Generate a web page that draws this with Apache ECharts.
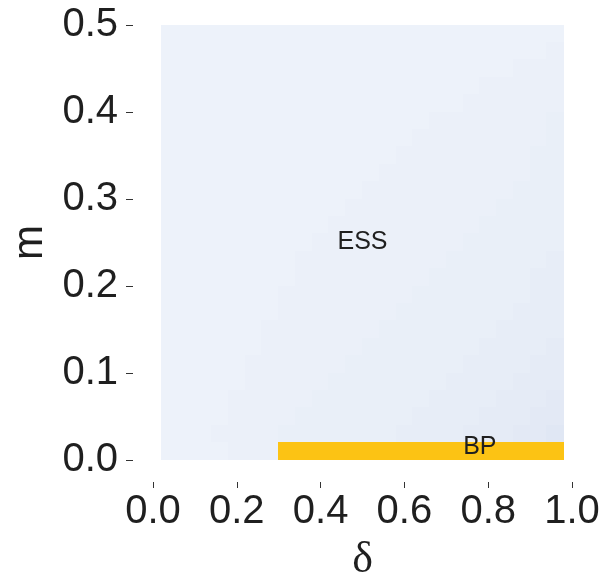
<!DOCTYPE html>
<html>
<head>
<meta charset="utf-8">
<script src="https://cdn.jsdelivr.net/npm/echarts@6/dist/echarts.min.js"></script>
<style>
  html, body { margin: 0; padding: 0; background: #ffffff; }
  #chart { width: 616px; height: 573px; }
</style>
</head>
<body>
<div id="chart"></div>
<script>
// Grid of δ cell centres (columns) and m cell centres (rows, top to bottom)
const deltaCenters = [0.04, 0.08, 0.12, 0.16, 0.20, 0.24, 0.28, 0.32, 0.36, 0.40, 0.44, 0.48,
                      0.52, 0.56, 0.60, 0.64, 0.68, 0.72, 0.76, 0.80, 0.84, 0.88, 0.92, 0.96];
const mCenters = [0.49, 0.47, 0.45, 0.43, 0.41, 0.39, 0.37, 0.35, 0.33, 0.31, 0.29, 0.27, 0.25,
                  0.23, 0.21, 0.19, 0.17, 0.15, 0.13, 0.11, 0.09, 0.07, 0.05, 0.03, 0.01];
const cellWidth = 0.04;
const cellHeight = 0.02;

// Shade level of the ESS region per cell, one string per m row (top row first)
const essShade = [
  '000000000000000000000000',
  '000000000000000000000001',
  '000000000000000000000111',
  '000000000000000000011111',
  '000000000000000000111111',
  '000000000000000011111112',
  '000000000000000111111112',
  '000000000000001111111122',
  '000000000000011111111122',
  '000000000000111111111222',
  '000000000001111111112222',
  '000000000011111111122222',
  '000000000111111111222222',
  '000000001111111112222223',
  '000000001111111122222233',
  '000000011111111222222233',
  '000000011111112222222333',
  '000000111111122222223333',
  '000000111111222222233334',
  '000001111112222222333344',
  '000001111122222223333444',
  '000011111222222233334445',
  '000011112222222333344455',
  '000111122222223333444556',
  '0000111'
];

// BP region: bottom m row, δ from 0.32 to 0.96
const bpDelta = [0.32, 0.36, 0.40, 0.44, 0.48, 0.52, 0.56, 0.60, 0.64, 0.68, 0.72, 0.76, 0.80,
                 0.84, 0.88, 0.92, 0.96];
const bpM = 0.01;

// Region labels
const regionNames = ['ESS', 'BP'];
const regionDelta = [0.50, 0.78];
const regionM = [0.25, 0.015];

// Axis ranges and tick steps
const deltaRange = [0, 1];
const deltaStep = 0.2;
const mRange = [0, 0.5];
const mStep = 0.1;

const shadeColors = ['#EDF2FA', '#EBF0F9', '#E9EFF8', '#E7EDF7', '#E5EBF6', '#E3E9F5', '#E0E7F4'];
const bpColor = '#FCC314';
const textColor = '#1f1f1f';
const tickColor = '#333333';
const sansFont = '"Liberation Sans", Arial, Helvetica, sans-serif';
const serifFont = '"Liberation Serif", "Times New Roman", serif';

const essData = [];
essShade.forEach(function (row, r) {
  for (let c = 0; c < row.length; c++) {
    essData.push([deltaCenters[c], mCenters[r], Number(row[c])]);
  }
});
const bpData = bpDelta.map(function (d) { return [d, bpM, -1]; });
const labelData = regionNames.map(function (n, i) { return [regionDelta[i], regionM[i], n]; });

function cellRenderer(params, api) {
  const d = api.value(0);
  const m = api.value(1);
  const level = api.value(2);
  const p0 = api.coord([d - cellWidth / 2, m + cellHeight / 2]);
  const p1 = api.coord([d + cellWidth / 2, m - cellHeight / 2]);
  const x0 = Math.floor(p0[0]), y0 = Math.floor(p0[1]);
  const x1 = Math.ceil(p1[0]), y1 = Math.ceil(p1[1]);
  return {
    type: 'rect',
    shape: { x: x0, y: y0, width: x1 - x0, height: y1 - y0 },
    style: { fill: level < 0 ? bpColor : shadeColors[level] }
  };
}

function labelRenderer(params, api) {
  const p = api.coord([api.value(0), api.value(1)]);
  return {
    type: 'text',
    x: p[0],
    y: p[1],
    style: {
      text: labelData[params.dataIndex][2],
      fill: textColor,
      font: '25px ' + sansFont,
      align: 'center',
      verticalAlign: 'middle'
    }
  };
}

const fmt1 = function (v) { return v.toFixed(1); };
const hiddenAxis = function (range) {
  return { type: 'value', min: range[0], max: range[1], show: false };
};

// grid 0 holds the cells, grid 1 carries the m axis (set 20px to the left),
// grid 2 carries the δ axis (set 22px below the cells)
const chart = echarts.init(document.getElementById('chart'), null, { renderer: 'canvas' });
chart.setOption({
  backgroundColor: '#ffffff',
  animation: false,
  grid: [
    { left: 153, right: 44, top: 25, bottom: 113, containLabel: false, outerBoundsMode: 'none' },
    { left: 133, right: 44, top: 25, bottom: 113, containLabel: false, outerBoundsMode: 'none' },
    { left: 153, right: 44, top: 25, bottom: 91, containLabel: false, outerBoundsMode: 'none' }
  ],
  xAxis: [
    Object.assign(hiddenAxis(deltaRange), { gridIndex: 0 }),
    Object.assign(hiddenAxis(deltaRange), { gridIndex: 1 }),
    {
      gridIndex: 2,
      type: 'value',
      min: deltaRange[0], max: deltaRange[1], interval: deltaStep,
      position: 'bottom',
      axisLine: { show: false },
      axisTick: { show: true, length: 6, lineStyle: { color: tickColor, width: 1 } },
      splitLine: { show: false },
      axisLabel: { fontSize: 40, color: textColor, fontFamily: sansFont, margin: 10, formatter: fmt1 },
      name: 'δ',
      nameLocation: 'middle',
      nameGap: 56,
      nameTextStyle: { fontSize: 44, color: textColor, fontFamily: serifFont }
    }
  ],
  yAxis: [
    Object.assign(hiddenAxis(mRange), { gridIndex: 0 }),
    {
      gridIndex: 1,
      type: 'value',
      min: mRange[0], max: mRange[1], interval: mStep,
      position: 'left',
      axisLine: { show: false },
      axisTick: { show: true, length: 7, lineStyle: { color: tickColor, width: 1 } },
      splitLine: { show: false },
      axisLabel: { fontSize: 40, color: textColor, fontFamily: sansFont, margin: 15, formatter: fmt1 },
      name: 'm',
      nameLocation: 'middle',
      nameGap: 78,
      nameTextStyle: { fontSize: 42, color: textColor, fontFamily: sansFont }
    },
    Object.assign(hiddenAxis(mRange), { gridIndex: 2 })
  ],
  series: [
    {
      type: 'custom',
      name: 'ESS',
      xAxisIndex: 0, yAxisIndex: 0,
      renderItem: cellRenderer,
      data: essData,
      encode: { x: 0, y: 1 },
      silent: true
    },
    {
      type: 'custom',
      name: 'BP',
      xAxisIndex: 0, yAxisIndex: 0,
      renderItem: cellRenderer,
      data: bpData,
      encode: { x: 0, y: 1 },
      silent: true
    },
    {
      type: 'custom',
      name: 'labels',
      xAxisIndex: 0, yAxisIndex: 0,
      renderItem: labelRenderer,
      data: labelData.map(function (d) { return [d[0], d[1]]; }),
      encode: { x: 0, y: 1 },
      silent: true,
      z: 5
    }
  ]
});
</script>
</body>
</html>
